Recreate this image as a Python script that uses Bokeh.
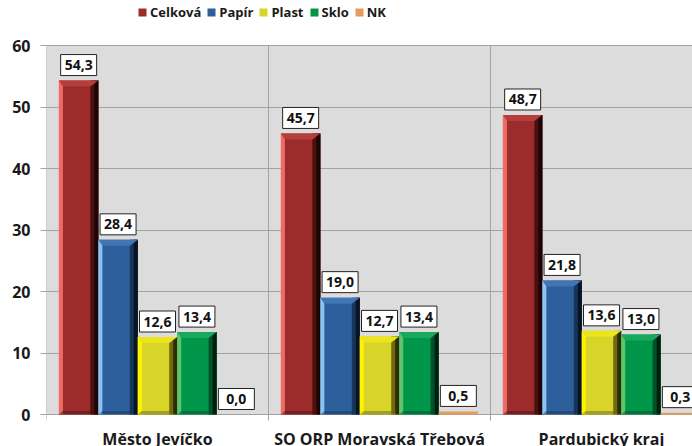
from bokeh.plotting import figure
from bokeh.models import (Range1d, FixedTicker, ColumnDataSource,
                          Legend, LegendItem, LabelSet)
from bokeh.core.properties import value
from bokeh.embed import file_html
from bokeh.resources import INLINE

categories = ["Město Jevíčko", "SO ORP Moravská Třebová", "Pardubický kraj"]
series = ["Celková", "Papír", "Plast", "Sklo", "NK"]
celkova = [54.3, 45.7, 48.7]
papir = [28.4, 19.0, 21.8]
plast = [12.6, 12.7, 13.6]
sklo = [13.4, 13.4, 13.0]
nk = [0.0, 0.5, 0.3]
y_ticks = [0, 10, 20, 30, 40, 50, 60]

values = [celkova, papir, plast, sklo, nk]
# face, light edge, dark edge, darkest edge, top bevel
styles = [
    ("#9c2b2b", "#f06a64", "#4a1010", "#1e0505", "#b53d3a"),
    ("#2c5f9c", "#8ec3ef", "#173558", "#081426", "#4275b3"),
    ("#d8d42a", "#fff200", "#6e6a10", "#2e2c05", "#ece51c"),
    ("#00964a", "#60c46c", "#00522a", "#00200f", "#1aa85c"),
    ("#e39b5e", "#f0b98a", "#c07c44", "#a0602c", "#eaa86e"),
]

FONT = "Open Sans"
GAP = 0.056
W = 0.1776
PX_X = 222.0  # px per category
PX_Y = 6.15   # px per unit
Y_MAX = y_ticks[-1]
X_END = 646 / PX_X
Y_START = -32 / PX_Y
Y_END = Y_MAX + 45 / PX_Y

p = figure(width=692, height=446, output_backend="svg", toolbar_location=None,
           x_range=Range1d(0, X_END), y_range=Range1d(Y_START, Y_END),
           x_axis_location=None,
           min_border_left=46, min_border_right=0, min_border_top=0,
           min_border_bottom=0)
p.background_fill_color = "white"
p.border_fill_color = "white"
p.outline_line_color = None

# grey plot area
p.quad(left=[0], right=[X_END], bottom=[0], top=[Y_MAX], fill_color="#dcdcdc",
       line_color=None, level="image")

p.ygrid.ticker = FixedTicker(ticks=y_ticks)
p.ygrid.grid_line_color = "#a3a3a3"
p.xgrid.visible = False

# category separators (extend a little below 0 as tick marks)
bounds = list(range(len(categories)))
p.segment(x0=bounds, x1=bounds, y0=[-6 / PX_Y] * len(bounds), y1=[Y_MAX] * len(bounds),
          line_color="#a3a3a3", line_width=1, level="underlay")

p.yaxis.ticker = FixedTicker(ticks=y_ticks)
p.yaxis.axis_line_color = None
p.yaxis.major_tick_line_color = "#a3a3a3"
p.yaxis.major_tick_out = 6
p.yaxis.major_tick_in = 0
p.yaxis.minor_tick_line_color = None
p.yaxis.major_label_standoff = 10
p.yaxis.major_label_text_font = FONT
p.yaxis.major_label_text_font_style = "bold"
p.yaxis.major_label_text_font_size = "16px"
p.yaxis.major_label_text_color = "#1a1a1a"

# category labels below the zero line, placed at category centres via the x scale
cat_src = ColumnDataSource(dict(x=[i + 0.5 for i in range(len(categories))],
                                y=[-24 / PX_Y] * len(categories), t=categories))
p.add_layout(LabelSet(x="x", y="y", text="t", source=cat_src,
                      text_align="center", text_baseline="middle",
                      text_font=value(FONT), text_font_style=value("bold"),
                      text_font_size=value("16px"), text_color="#1a1a1a"))

ls = 4 / PX_X
rs1 = 8 / PX_X
rs2 = 4 / PX_X
bh = 6 / PX_Y

legend_items = []
lab_x, lab_y, lab_t = [], [], []
for k, (name, vals, st) in enumerate(zip(series, values, styles)):
    face, light, dark, darkest, bevel = st
    x0 = [i + GAP + k * W for i in range(len(categories))]
    x1 = [a + W for a in x0]
    src = ColumnDataSource(dict(left=x0, right=x1, top=vals, bottom=[0] * len(vals)))
    r = p.quad(left="left", right="right", top="top", bottom="bottom", source=src,
               fill_color=face, line_color=None)
    legend_items.append(LegendItem(label=name, renderers=[r]))
    big = [j for j, v in enumerate(vals) if v > 2]
    if big:
        bx0 = [x0[j] for j in big]
        bx1 = [x1[j] for j in big]
        bv = [vals[j] for j in big]
        p.quad(left=bx0, right=[a + ls for a in bx0], top=bv, bottom=[0] * len(bv),
               fill_color=light, line_color=None)
        p.quad(left=[b - rs1 for b in bx1], right=bx1, top=bv, bottom=[0] * len(bv),
               fill_color=dark, line_color=None)
        p.quad(left=[b - rs2 for b in bx1], right=bx1, top=bv, bottom=[0] * len(bv),
               fill_color=darkest, line_color=None)
        xs = [[a, b, b - rs1, a + ls] for a, b in zip(bx0, bx1)]
        ys = [[v, v, v - bh, v - bh] for v in bv]
        p.patches(xs, ys, fill_color=bevel, line_color=None)
        ys2 = [[0, 0, bh * 0.6, bh * 0.6] for v in bv]
        p.patches(xs, ys2, fill_color=dark, fill_alpha=0.5, line_color=None)
    for j, v in enumerate(vals):
        lab_x.append(x0[j] + W / 2)
        lab_y.append(v + 15.5 / PX_Y)
        lab_t.append(f"{v:.1f}".replace(".", ","))

lsrc = ColumnDataSource(dict(x=lab_x, y=lab_y, t=lab_t))
p.rect(x="x", y="y", width=36, height=21, width_units="screen", height_units="screen",
       source=lsrc, fill_color="white", line_color="#222222", line_width=1)
p.text(x="x", y="y", text="t", source=lsrc, text_align="center", text_baseline="middle",
       text_font=value(FONT), text_font_style="bold", text_font_size="14px",
       text_color="#111111")

legend = Legend(items=legend_items, orientation="horizontal", location=(91, 425),
                glyph_width=10, glyph_height=10, label_standoff=3, spacing=5,
                padding=0, margin=0, border_line_color=None,
                background_fill_alpha=0,
                label_text_font=FONT, label_text_font_style="bold",
                label_text_font_size="13px", label_text_color="#1a1a1a",
                label_height=14)
p.add_layout(legend, "center")

open("out.html", "w").write(file_html(p, INLINE))
